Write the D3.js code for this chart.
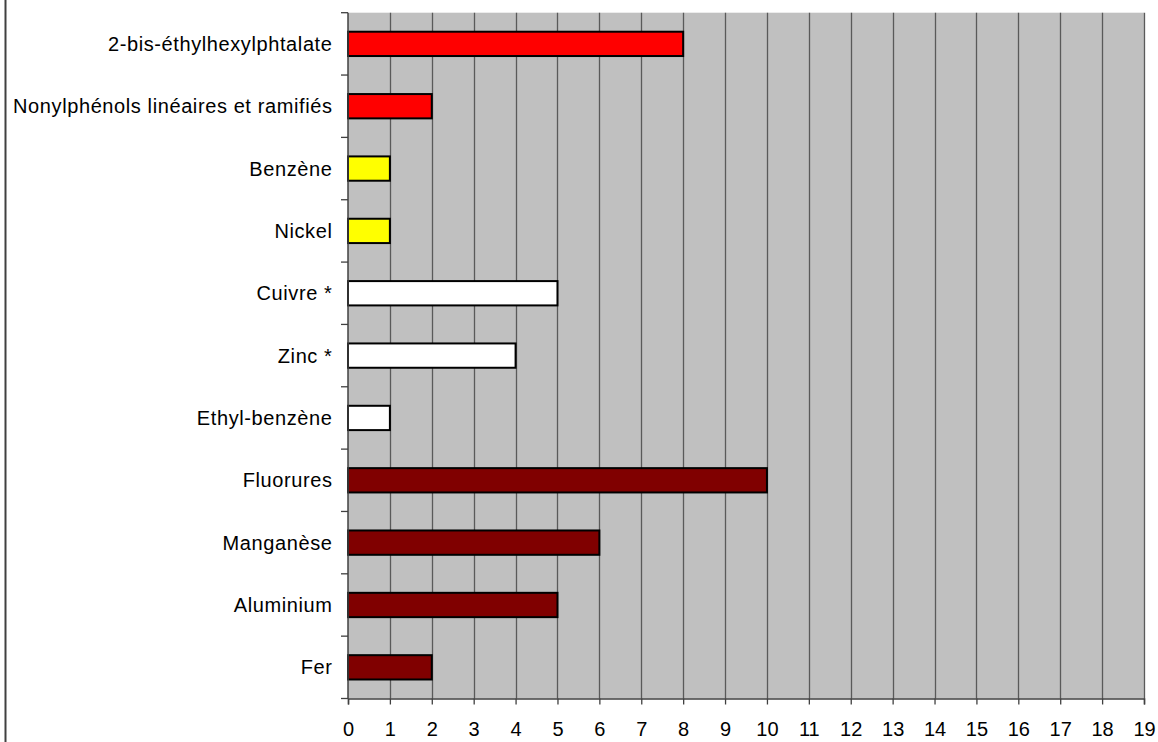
<!DOCTYPE html>
<html>
<head>
<meta charset="utf-8">
<script src="https://cdn.jsdelivr.net/npm/d3@7"></script>
<style>
  html, body { margin: 0; padding: 0; background: #fff; }
  svg { display: block; }
  text { font-family: "Liberation Sans", Arial, sans-serif; fill: #000; }
</style>
</head>
<body>
<svg id="chart" width="1158" height="742"></svg>
<script>
// Substances, top to bottom
const categories = [
  "2-bis-éthylhexylphtalate",
  "Nonylphénols linéaires et ramifiés",
  "Benzène",
  "Nickel",
  "Cuivre *",
  "Zinc *",
  "Ethyl-benzène",
  "Fluorures",
  "Manganèse",
  "Aluminium",
  "Fer"
];
const values = [8, 2, 1, 1, 5, 4, 1, 10, 6, 5, 2];
const groups = ["rouge", "rouge", "jaune", "jaune", "blanc", "blanc", "blanc", "brun", "brun", "brun", "brun"];
const groupColors = { rouge: "#ff0000", jaune: "#ffff00", blanc: "#ffffff", brun: "#800000" };
const xTicks = d3.range(0, 20);

const svg = d3.select("#chart");
const W = 1158, H = 742;
const plot = { left: 348, right: 1144, top: 12.7, bottom: 698.5 };
const FONT = "'Liberation Sans', Arial, sans-serif";

const x = d3.scaleLinear().domain([0, 19]).range([plot.left, plot.right]);
const y = d3.scaleBand().domain(categories).range([plot.top, plot.bottom]).paddingInner(0.61).paddingOuter(0.305);
const yBands = d3.scaleBand().domain(categories).range([plot.top, plot.bottom]);

// Left frame line
svg.append("line")
  .attr("x1", 5.5).attr("x2", 5.5).attr("y1", 0).attr("y2", H)
  .attr("stroke", "#404040").attr("stroke-width", 2);

// Plot background
svg.append("rect")
  .attr("x", plot.left).attr("y", plot.top)
  .attr("width", plot.right - plot.left).attr("height", plot.bottom - plot.top)
  .attr("fill", "#c0c0c0");

// Vertical gridlines
svg.append("g")
  .selectAll("line")
  .data(xTicks.slice(1))
  .join("line")
  .attr("x1", d => Math.round(x(d)) + 0.5).attr("x2", d => Math.round(x(d)) + 0.5)
  .attr("y1", plot.top).attr("y2", plot.bottom)
  .attr("stroke", "#5a5a5a").attr("stroke-width", 1.3);

// Bars
svg.append("g")
  .selectAll("rect")
  .data(categories)
  .join("rect")
  .attr("x", x(0))
  .attr("y", d => y(d))
  .attr("width", (d, i) => x(values[i]) - x(0))
  .attr("height", y.bandwidth())
  .attr("fill", (d, i) => groupColors[groups[i]])
  .attr("stroke", "#000")
  .attr("stroke-width", 2);

// X axis
const xAxis = svg.append("g")
  .attr("transform", `translate(0,${plot.bottom})`)
  .call(d3.axisBottom(x).tickValues(xTicks).tickFormat(d3.format("d")).tickSize(6).tickPadding(9));
xAxis.attr("font-size", null).attr("font-family", null);
xAxis.select(".domain").attr("stroke", "#404040").attr("stroke-width", 1.5);
xAxis.selectAll(".tick line").attr("stroke", "#404040").attr("stroke-width", 1.3);
xAxis.selectAll("text")
  .attr("y", 30.5).attr("dy", "0.35em")
  .style("font-size", "20px").style("font-family", FONT).attr("fill", "#000");

// Y axis: ticks at band boundaries, labels at band centres
const yAxisG = svg.append("g");
yAxisG.append("line")
  .attr("x1", plot.left).attr("x2", plot.left)
  .attr("y1", plot.top).attr("y2", plot.bottom)
  .attr("stroke", "#404040").attr("stroke-width", 1.5);
const boundaries = categories.map(c => yBands(c)).concat([plot.bottom]);
yAxisG.selectAll("line.tk")
  .data(boundaries)
  .join("line")
  .attr("class", "tk")
  .attr("x1", plot.left - 7).attr("x2", plot.left)
  .attr("y1", d => d).attr("y2", d => d)
  .attr("stroke", "#404040").attr("stroke-width", 1.3);
yAxisG.selectAll("text")
  .data(categories)
  .join("text")
  .attr("x", 332.5)
  .attr("y", d => yBands(d) + yBands.bandwidth() / 2)
  .attr("dy", "0.35em")
  .attr("text-anchor", "end")
  .style("font-size", "20px")
  .style("letter-spacing", "0.6px")
  .text(d => d);
</script>
</body>
</html>
